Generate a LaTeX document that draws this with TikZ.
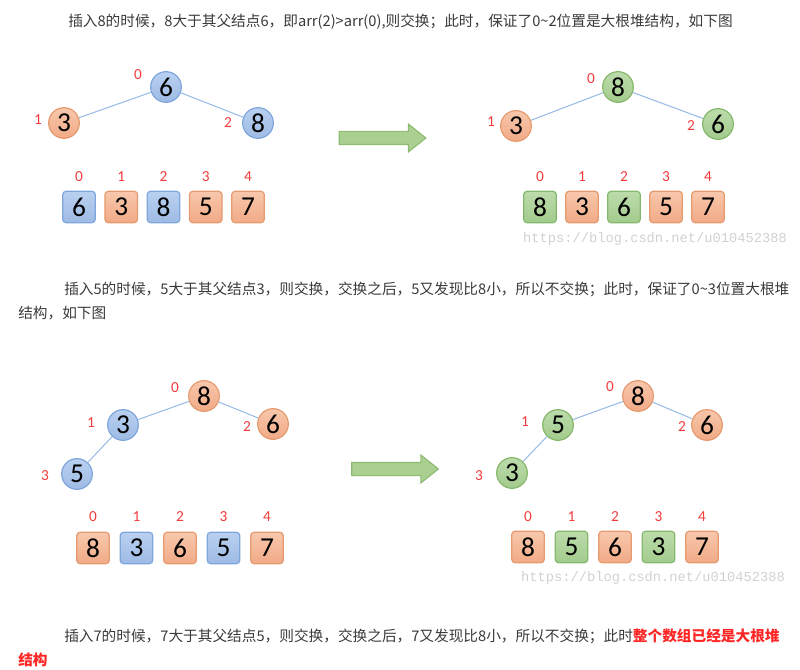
\documentclass[tikz,border=0pt]{standalone}
\usepackage{fontspec}
\setmainfont{Carlito}
\newfontfamily\cjk{Noto Sans CJK SC}
\newfontfamily\wm{Liberation Mono}
\usetikzlibrary{shapes.arrows}

\definecolor{bluetop}{HTML}{B9D0F0}
\definecolor{bluebot}{HTML}{9EBBE5}
\definecolor{blueline}{HTML}{7FA6DC}
\definecolor{orangetop}{HTML}{F8C7AC}
\definecolor{orangebot}{HTML}{F1AA86}
\definecolor{orangeline}{HTML}{E59B6E}
\definecolor{greentop}{HTML}{BCDCAB}
\definecolor{greenbot}{HTML}{A3CB8D}
\definecolor{greenline}{HTML}{86B86C}
\definecolor{edgeblue}{HTML}{9BBCE6}
\definecolor{idxred}{HTML}{F23B3B}
\definecolor{textgray}{HTML}{3A3A3A}
\definecolor{hotred}{HTML}{FF2626}
\definecolor{arrowfill}{HTML}{A9CF91}
\definecolor{arrowline}{HTML}{8DBB73}

\tikzset{
  heap/.style={circle, draw=#1line, top color=#1top, bottom color=#1bot,
    line width=0.9pt, minimum size=23pt, inner sep=0pt,
    font=\fontsize{20.5}{20.5}\selectfont},
  cell/.style={rectangle, rounded corners=2.5pt, draw=#1line, top color=#1top,
    bottom color=#1bot, line width=0.9pt, minimum width=24.5pt,
    minimum height=23.5pt, inner sep=0pt, font=\fontsize{20.5}{20.5}\selectfont},
  idx/.style={text=idxred, inner sep=0pt, font=\fontsize{11.5}{11.5}\selectfont},
  edge/.style={draw=edgeblue, line width=0.8pt},
  txt/.style={anchor=west, inner sep=0pt, text=textgray,
    font=\cjk\fontsize{11}{11}\selectfont},
  wmark/.style={text=black!18, inner sep=0pt, font=\wm\fontsize{10.3}{10.3}\selectfont},
  fatarrow/.style={single arrow, draw=arrowline, fill=arrowfill, line width=0.8pt,
    minimum height=65pt, inner sep=4.5pt, single arrow head extend=5.6pt,
    single arrow tip angle=77}
}

\begin{document}
\begin{tikzpicture}[x=0.75pt,y=-0.75pt]
  \useasboundingbox (0,0) rectangle (800,670);

  % texts
  \node[txt] (line1) at (68,22) {插入8的时候，8大于其父结点6，即arr(2)>arr(0),则交换；此时，保证了0\textasciitilde 2位置是大根堆结构，如下图};
  \node[txt] (line2) at (64,289) {插入5的时候，5大于其父结点3，则交换，交换之后，5又发现比8小，所以不交换；此时，保证了0\textasciitilde 3位置大根堆};
  \node[txt] (line3) at (18,313) {结构，如下图};
  \node[txt] (line4) at (64,636) {插入7的时候，7大于其父结点5，则交换，交换之后，7又发现比8小，所以不交换；此时\textcolor{hotred}{\bfseries 整个数组已经是大根堆}};
  \node[txt, text=hotred] (line5) at (18,660) {\bfseries 结构};

  % step 1: before swap
  \node[heap=blue] (s1root) at (166,87) {6};
  \node[heap=orange] (s1left) at (64,123) {3};
  \node[heap=blue] (s1right) at (258,123) {8};
  \draw[edge] (s1root) -- (s1left);
  \draw[edge] (s1root) -- (s1right);
  \node[idx] (s1i0) at (138,75) {0};
  \node[idx] (s1i1) at (38,120) {1};
  \node[idx] (s1i2) at (228,123) {2};
  \foreach \v/\c [count=\i from 0] in {6/blue,3/orange,8/blue,5/orange,7/orange} {
    \node[cell/.expanded=\c] (s1a\i) at (79+42.25*\i,207) {\v};
    \node[idx] (s1n\i) at (79+42.25*\i,177) {\i};
  }

  \node[fatarrow] (arr1) at (378.5,138) {};

  % step 1: after swap
  \node[heap=green] (s2root) at (618,87) {8};
  \node[heap=orange] (s2left) at (516,126) {3};
  \node[heap=green] (s2right) at (718,124) {6};
  \draw[edge] (s2root) -- (s2left);
  \draw[edge] (s2root) -- (s2right);
  \node[idx] (s2i0) at (591,79) {0};
  \node[idx] (s2i1) at (491,122) {1};
  \node[idx] (s2i2) at (691,126) {2};
  \foreach \v/\c [count=\i from 0] in {8/green,3/orange,6/green,5/orange,7/orange} {
    \node[cell/.expanded=\c] (s2a\i) at (540+42*\i,207) {\v};
    \node[idx] (s2n\i) at (540+42*\i,177) {\i};
  }
  \node[wmark] (wm1) at (655,239) {https://blog.csdn.net/u010452388};

  % step 2: before swap
  \node[heap=orange] (s3root) at (204,396) {8};
  \node[heap=blue] (s3left) at (123,425) {3};
  \node[heap=orange] (s3right) at (273,424) {6};
  \node[heap=blue] (s3leaf) at (77,474) {5};
  \draw[edge] (s3root) -- (s3left);
  \draw[edge] (s3root) -- (s3right);
  \draw[edge] (s3left) -- (s3leaf);
  \node[idx] (s3i0) at (175,388) {0};
  \node[idx] (s3i1) at (91,423) {1};
  \node[idx] (s3i2) at (247,427) {2};
  \node[idx] (s3i3) at (45,476) {3};
  \foreach \v/\c [count=\i from 0] in {8/orange,3/blue,6/orange,5/blue,7/orange} {
    \node[cell/.expanded=\c] (s3a\i) at (93+43.5*\i,548) {\v};
    \node[idx] (s3n\i) at (93+43.5*\i,517) {\i};
  }

  \node[fatarrow] (arr2) at (391,469) {};

  % step 2: after swap
  \node[heap=orange] (s4root) at (638,396) {8};
  \node[heap=green] (s4left) at (558,425) {5};
  \node[heap=orange] (s4right) at (707,425) {6};
  \node[heap=green] (s4leaf) at (512,473) {3};
  \draw[edge] (s4root) -- (s4left);
  \draw[edge] (s4root) -- (s4right);
  \draw[edge] (s4left) -- (s4leaf);
  \node[idx] (s4i0) at (610,387) {0};
  \node[idx] (s4i1) at (525,422) {1};
  \node[idx] (s4i2) at (682,427) {2};
  \node[idx] (s4i3) at (479,476) {3};
  \foreach \v/\c [count=\i from 0] in {8/orange,5/green,6/orange,3/green,7/orange} {
    \node[cell/.expanded=\c] (s4a\i) at (528+43.5*\i,547) {\v};
    \node[idx] (s4n\i) at (528+43.5*\i,517) {\i};
  }
  \node[wmark] (wm2) at (653,578) {https://blog.csdn.net/u010452388};
\end{tikzpicture}
\end{document}
